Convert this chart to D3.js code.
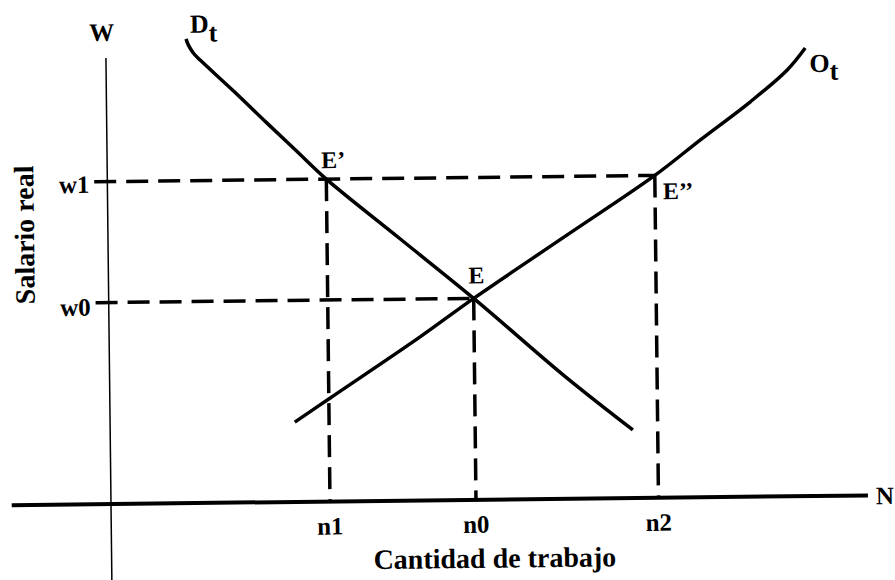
<!DOCTYPE html>
<html>
<head>
<meta charset="utf-8">
<script src="https://cdn.jsdelivr.net/npm/d3@7"></script>
<style>
    body { margin: 0; background: #fff; }
    svg text {
        font-family: "Liberation Serif", "Times New Roman", serif;
        font-weight: bold;
        fill: #000;
    }
</style>
</head>
<body>
<div id="chart"></div>
<script>
// Set dimensions
const width = 895,
    height = 580;

// Labour market values (n = quantity of labour, w = real wage)
const nLabels = ["n1", "n0", "n2"];
const nValues = [3, 5, 7.5];
const wLabels = ["w1", "w0"];
const wValues = [8, 5];

// Demand curve D_t
const demandQ = [1.1, 1.13, 1.2, 1.29, 1.75, 2.2, 2.6, 3, 4, 5, 6.25, 7.16];
const demandW = [11.52, 11.37, 11.16, 10.99, 10.2, 9.4, 8.7, 8, 6.5, 5, 3.02, 1.69];

// Supply curve O_t
const supplyQ = [2.53, 3.02, 4.26, 5, 6.25, 7.5, 8.13, 8.82, 9.33, 9.58];
const supplyW = [1.98, 2.57, 4.06, 5, 6.5, 8, 8.87, 9.8, 10.58, 11.12];

// Equilibrium points
const eqLabels = ["E\u2019", "E", "E\u2019\u2019"];
const eqQ = [3, 5, 7.5];
const eqW = [8, 5, 8];

// Axis extents
const xExtent = [-1.36, 10.37];
const yExtent = [-2, 11.07];

// Scales
const x = d3.scaleLinear().domain([0, 10]).range([111, 841]);
const y = d3.scaleLinear().domain([0, 10]).range([504, 101]);

// Append SVG
const svg = d3
    .select("#chart")
    .append("svg")
    .attr("width", width)
    .attr("height", height);

// the scanned drawing is tilted a little
const g = svg
    .append("g")
    .attr("transform", `rotate(-0.65, ${x(0)}, ${y(0)})`);

// Axes
g.append("line")
    .attr("x1", x(xExtent[0]))
    .attr("x2", x(xExtent[1]))
    .attr("y1", y(0))
    .attr("y2", y(0))
    .attr("stroke", "#000")
    .attr("stroke-width", 4);

g.append("line")
    .attr("x1", x(0))
    .attr("x2", x(0))
    .attr("y1", y(yExtent[1]))
    .attr("y2", y(yExtent[0]))
    .attr("stroke", "#000")
    .attr("stroke-width", 1.5);

// Dashed guides
const dash = "22,10";

wValues.forEach((w) => {
    const qEnd = d3.max(eqQ.filter((q, i) => eqW[i] === w));
    g.append("line")
        .attr("x1", x(-0.18))
        .attr("x2", x(qEnd))
        .attr("y1", y(w))
        .attr("y2", y(w))
        .attr("stroke", "#000")
        .attr("stroke-width", 3.5)
        .attr("stroke-dasharray", dash);
});

nValues.forEach((n) => {
    const wTop = eqW[eqQ.indexOf(n)];
    g.append("line")
        .attr("x1", x(n))
        .attr("x2", x(n))
        .attr("y1", y(wTop))
        .attr("y2", y(0))
        .attr("stroke", "#000")
        .attr("stroke-width", 3.5)
        .attr("stroke-dasharray", dash);
});

// Curves
const line = d3
    .line()
    .x((d) => x(d[0]))
    .y((d) => y(d[1]))
    .curve(d3.curveCatmullRom.alpha(0.5));

g.append("path")
    .datum(d3.zip(demandQ, demandW))
    .attr("d", line)
    .attr("fill", "none")
    .attr("stroke", "#000")
    .attr("stroke-width", 3.5);

g.append("path")
    .datum(d3.zip(supplyQ, supplyW))
    .attr("d", line)
    .attr("fill", "none")
    .attr("stroke", "#000")
    .attr("stroke-width", 3.5);

// Labels
g.append("text")
    .attr("x", x(0) - 4)
    .attr("y", y(yExtent[1]) - 17)
    .attr("text-anchor", "middle")
    .style("font-size", "25px")
    .text("W");

g.append("text")
    .attr("x", x(xExtent[1]) + 8)
    .attr("y", y(0) + 9)
    .style("font-size", "25px")
    .text("N");

const dLab = g
    .append("text")
    .attr("x", x(demandQ[0]) + 4)
    .attr("y", y(demandW[0]) - 6)
    .style("font-size", "26px");
dLab.append("tspan").text("D");
dLab.append("tspan").attr("dy", 9).text("t");

const last = supplyQ.length - 1;
const oLab = g
    .append("text")
    .attr("x", x(supplyQ[last]) + 4)
    .attr("y", y(supplyW[last]) + 24)
    .style("font-size", "26px");
oLab.append("tspan").text("O");
oLab.append("tspan").attr("dy", 8).text("t");

g.selectAll(".wlab")
    .data(wValues)
    .enter()
    .append("text")
    .attr("x", x(0) - 18)
    .attr("y", (d, i) => y(d) + (i === 0 ? 11 : 13))
    .attr("text-anchor", "end")
    .style("font-size", "25px")
    .text((d, i) => wLabels[i]);

g.selectAll(".nlab")
    .data(nValues)
    .enter()
    .append("text")
    .attr("x", (d) => x(d))
    .attr("y", y(0) + 33)
    .attr("text-anchor", "middle")
    .style("font-size", "25px")
    .text((d, i) => nLabels[i]);

const eqOffset = [
    [-5, -11],
    [-5, -15],
    [8, 24],
];
g.selectAll(".elab")
    .data(eqLabels)
    .enter()
    .append("text")
    .attr("x", (d, i) => x(eqQ[i]) + eqOffset[i][0])
    .attr("y", (d, i) => y(eqW[i]) + eqOffset[i][1])
    .style("font-size", "24px")
    .text((d) => d);

// Axis titles
g.append("text")
    .attr("text-anchor", "middle")
    .attr("transform", `translate(${x(0) - 74}, ${y(6.7)}) rotate(-90)`)
    .style("font-size", "28px")
    .text("Salario real");

g.append("text")
    .attr("x", x(5.25))
    .attr("y", y(0) + 68)
    .attr("text-anchor", "middle")
    .style("font-size", "28px")
    .text("Cantidad de trabajo");
</script>
</body>
</html>
